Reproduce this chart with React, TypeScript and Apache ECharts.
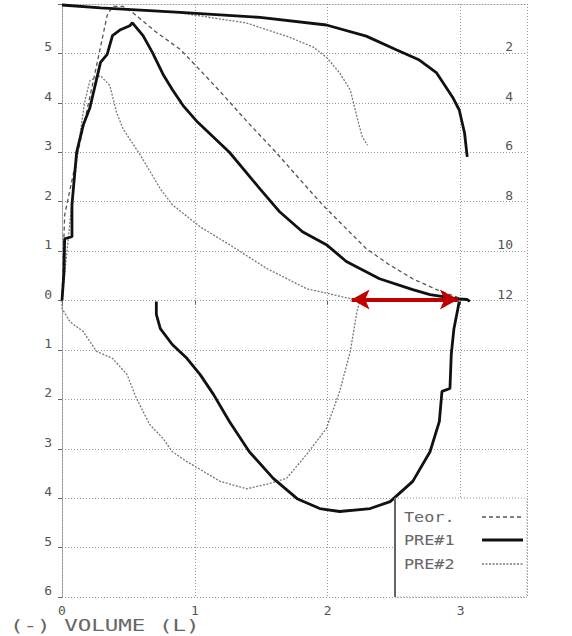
import React, { useEffect, useRef } from "react";
import * as echarts from "echarts";

// Flow-volume data: [volume (L), flow (L/s)]; expiration positive, inspiration negative
const teorExp: number[][] = [
  [0, 0], [0.01, 0.9], [0.02, 1.73], [0.1, 2.75], [0.18, 3.75], [0.26, 4.75], [0.34, 5.77],
  [0.38, 5.95], [0.46, 5.95], [0.53, 5.83], [0.7, 5.45], [0.89, 5.08], [1.04, 4.66], [1.2, 4.2],
  [1.4, 3.6], [1.6, 3.03], [1.8, 2.42], [1.96, 1.94], [2.13, 1.48], [2.29, 1.05], [2.46, 0.73],
  [2.64, 0.44], [2.82, 0.22], [3.0, 0.04],
];

const pre1Exp: number[][] = [
  [0, 0], [0.015, 0.58], [0.02, 1.25], [0.075, 1.29], [0.075, 1.94], [0.11, 3.0], [0.16, 3.55],
  [0.21, 3.9], [0.29, 4.82], [0.34, 4.98], [0.38, 5.36], [0.44, 5.48], [0.51, 5.56], [0.53, 5.62],
  [0.61, 5.36], [0.68, 5.02], [0.76, 4.58], [0.83, 4.27], [0.91, 3.95], [1.02, 3.61], [1.26, 3.0],
  [1.49, 2.26], [1.64, 1.79], [1.81, 1.39], [1.99, 1.13], [2.14, 0.79], [2.39, 0.44], [2.64, 0.22],
  [2.77, 0.12], [2.99, 0.03], [3.05, 0.02], [3.07, -0.02],
];

const pre1Insp: number[][] = [
  [0.71, -0.02], [0.71, -0.28], [0.74, -0.57], [0.83, -0.89], [0.94, -1.17], [1.04, -1.5],
  [1.14, -1.9], [1.26, -2.45], [1.41, -3.06], [1.59, -3.6], [1.77, -4.01], [1.94, -4.21],
  [2.09, -4.27], [2.32, -4.21], [2.47, -4.07], [2.64, -3.66], [2.77, -3.06], [2.84, -2.45],
  [2.86, -1.84], [2.92, -1.78], [2.93, -1.09], [2.95, -0.57], [2.98, -0.16], [2.99, -0.02],
];

const pre2Exp: number[][] = [
  [0, 0], [0.03, 0.8], [0.075, 1.99], [0.135, 3.35], [0.17, 4.01], [0.21, 4.45], [0.29, 4.55],
  [0.36, 4.35], [0.41, 3.81], [0.46, 3.47], [0.59, 2.94], [0.74, 2.26], [0.83, 1.94], [1.04, 1.49],
  [1.26, 1.13], [1.54, 0.65], [1.84, 0.24], [2.2, 0.02],
];

const pre2Insp: number[][] = [
  [0, 0], [0.0, -0.16], [0.06, -0.43], [0.16, -0.63], [0.26, -1.03], [0.38, -1.17], [0.49, -1.5],
  [0.56, -1.98], [0.66, -2.51], [0.76, -2.79], [0.83, -3.06], [0.94, -3.26], [1.04, -3.42],
  [1.19, -3.66], [1.39, -3.81], [1.54, -3.72], [1.69, -3.6], [1.84, -3.12], [1.99, -2.59],
  [2.09, -1.84], [2.17, -1.03], [2.22, -0.22], [2.24, -0.02],
];

// Volume-time curves: [volume (L), time (s)] on the right axis
const pre1VolTime: number[][] = [
  [0, 0.04], [0.29, 0.16], [0.89, 0.34], [1.49, 0.54], [1.99, 0.85], [2.29, 1.3], [2.52, 1.86],
  [2.69, 2.27], [2.82, 2.79], [2.94, 3.77], [2.99, 4.29], [3.03, 5.22], [3.05, 6.19],
];

const pre2VolTime: number[][] = [
  [0, 0.04], [0.89, 0.36], [1.39, 0.77], [1.71, 1.34], [1.89, 1.74], [1.99, 2.15], [2.09, 2.79],
  [2.17, 3.48], [2.22, 4.57], [2.26, 5.38], [2.3, 5.71],
];

// Residual-volume difference arrow
const arrowFrom = [2.18, 0.02];
const arrowTo = [2.98, 0.02];

const legendNames = ["Teor.", "PRE#1", "PRE#2"];
const xTitle = "(-) VOLUME (L)";

const MONO = "'DejaVu Sans Mono', 'Liberation Mono', monospace";
const GRID_COLOR = "#999";
const LABEL_COLOR = "#555";

export default function App() {
  const ref = useRef<HTMLDivElement>(null);

  useEffect(() => {
    document.body.style.margin = "0";
    if (!ref.current) return;
    const chart = echarts.init(ref.current, undefined, { renderer: "svg" });

    const thick = { color: "#111", width: 2.8, type: "solid" as const };
    const thin = { color: "#777", width: 1.3, type: [2, 1.5] as any };
    const dashed = { color: "#555", width: 1.3, type: [4, 3] as any };

    const lineSeries = (name: string, data: number[][], ls: any, yAxisIndex = 0) => ({
      name,
      type: "line",
      data,
      xAxisIndex: 0,
      yAxisIndex,
      symbol: "none",
      smooth: false,
      lineStyle: ls,
      z: 3,
    });

    const legendX = 395;
    const legendY = 498;
    const rows = [517, 540, 564];
    const samples = [dashed, thick, thin];
    const gridLine = { color: GRID_COLOR, type: [1, 2], width: 1 };

    const option: any = {
      animation: false,
      backgroundColor: "#fff",
      grid: { left: 62, right: 45, top: 4, bottom: 39, containLabel: false },
      xAxis: [
        {
          type: "value",
          min: 0,
          max: 3.5,
          interval: 1,
          position: "bottom",
          axisLine: { show: false },
          axisTick: { show: true, length: 4, lineStyle: { color: "#666" } },
          axisLabel: {
            color: LABEL_COLOR,
            fontFamily: MONO,
            fontSize: 13,
            margin: 7,
            showMaxLabel: false,
            formatter: (v: number) => (Number.isInteger(v) ? String(v) : ""),
          },
          splitLine: { show: true, lineStyle: gridLine },
        },
        {
          type: "value",
          min: 0,
          max: 3.5,
          position: "top",
          axisLine: { show: true, lineStyle: gridLine },
          axisTick: { show: false },
          axisLabel: { show: false },
          splitLine: { show: false },
        },
      ],
      yAxis: [
        {
          type: "value",
          min: -6,
          max: 6,
          interval: 1,
          position: "left",
          axisLine: { show: true, lineStyle: gridLine },
          axisTick: { show: true, length: 4, lineStyle: { color: "#666" } },
          axisLabel: {
            color: LABEL_COLOR,
            fontFamily: MONO,
            fontSize: 13,
            margin: 10,
            verticalAlign: "bottom",
            formatter: (v: number) => (v === 6 ? "" : String(Math.abs(v))),
          },
          splitLine: { show: true, lineStyle: gridLine },
        },
        {
          type: "value",
          min: 0,
          max: 24,
          interval: 2,
          inverse: true,
          position: "right",
          axisLine: { show: true, lineStyle: gridLine },
          axisTick: { show: true, inside: true, length: 4, lineStyle: { color: "#666" } },
          axisLabel: {
            inside: true,
            color: LABEL_COLOR,
            fontFamily: MONO,
            fontSize: 13,
            margin: 14,
            verticalAlign: "bottom",
            formatter: (v: number) => (v >= 2 && v <= 12 ? String(v) : ""),
          },
          splitLine: { show: false },
        },
      ],
      series: [
        lineSeries(legendNames[0], teorExp, dashed),
        lineSeries(legendNames[2], pre2Exp, thin),
        lineSeries(legendNames[2], pre2Insp, thin),
        lineSeries(legendNames[2], pre2VolTime, thin, 1),
        lineSeries(legendNames[1], pre1Exp, thick),
        lineSeries(legendNames[1], pre1Insp, thick),
        lineSeries(legendNames[1], pre1VolTime, thick, 1),
        {
          type: "line",
          data: [],
          xAxisIndex: 0,
          yAxisIndex: 0,
          z: 5,
          markLine: {
            silent: true,
            symbol: ["arrow", "arrow"],
            symbolSize: [15, 18],
            label: { show: false },
            lineStyle: { color: "#c00000", width: 4, type: "solid" },
            data: [[{ coord: arrowFrom }, { coord: arrowTo }]],
          },
        },
      ],
      graphic: [
        {
          type: "rect",
          z: 10,
          shape: { x: legendX, y: legendY, width: 132, height: 99 },
          style: { fill: "#fff", stroke: "#999", lineWidth: 1, lineDash: [1, 2] },
        },
        {
          type: "line",
          z: 11,
          shape: { x1: legendX, y1: legendY, x2: legendX, y2: legendY + 99 },
          style: { stroke: "#666", lineWidth: 2 },
        },
        ...legendNames.map((name, i) => ({
          type: "text",
          z: 11,
          x: 404,
          y: rows[i],
          scaleX: 1.2,
          style: {
            text: name,
            font: `14px ${MONO}`,
            fill: "#666",
            textVerticalAlign: "middle",
            textAlign: "left",
          },
        })),
        ...legendNames.map((_, i) => ({
          type: "line",
          z: 11,
          shape: { x1: 482, y1: rows[i], x2: 523, y2: rows[i] },
          style: {
            stroke: samples[i].color,
            lineWidth: samples[i].width,
            lineDash: Array.isArray(samples[i].type) ? samples[i].type : null,
          },
        })),
        {
          type: "text",
          z: 11,
          x: 10,
          y: 626,
          scaleX: 1.5,
          style: {
            text: xTitle,
            font: `15px ${MONO}`,
            fill: "#666",
            textVerticalAlign: "middle",
            textAlign: "left",
          },
        },
      ],
    };

    chart.setOption(option);
    return () => chart.dispose();
  }, []);

  return <div ref={ref} style={{ width: 572, height: 636 }} />;
}
